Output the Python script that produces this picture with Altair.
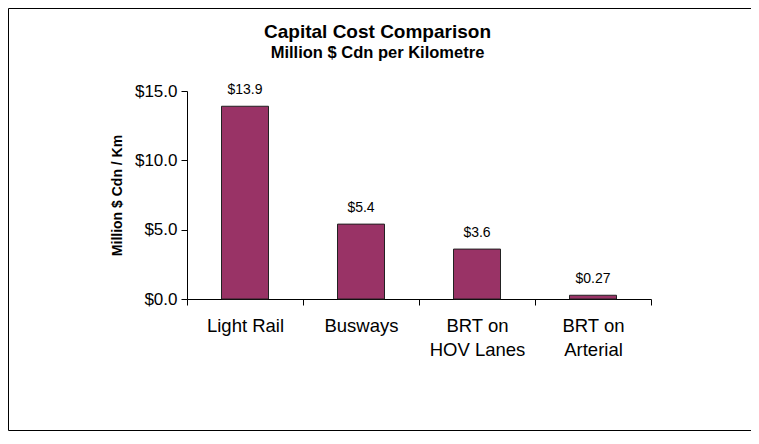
import altair as alt
import pandas as pd

categories = ["Light Rail", "Busways", "BRT on HOV Lanes", "BRT on Arterial"]
costs = [13.9, 5.4, 3.6, 0.27]
cost_labels = ["$13.9", "$5.4", "$3.6", "$0.27"]
y_ticks = [0, 5, 10, 15]
TITLE = "Capital Cost Comparison"
SUBTITLE = "Million $ Cdn per Kilometre"
Y_TITLE = "Million $ Cdn / Km"

df = pd.DataFrame({"cat": categories, "cost": costs, "lbl": cost_labels})
one = pd.DataFrame({"a": [0]})
FONT = "Liberation Sans"

x_enc = alt.X(
    "cat:N", sort=categories,
    scale=alt.Scale(paddingInner=0, paddingOuter=0),
    axis=alt.Axis(
        title=None, labelAngle=0, tickBand="extent", tickSize=6,
        labelFontSize=18.5, labelFont=FONT, labelColor="black",
        labelPadding=11, labelLineHeight=24,
        labelExpr="isString(datum.value) && indexof(datum.value, 'BRT on ') == 0 ? ['BRT on', substring(datum.value, 7)] : datum.label",
        domainColor="black", tickColor="black",
    ),
)
y_enc = alt.Y(
    "cost:Q",
    scale=alt.Scale(domain=[0, 15], nice=False),
    axis=alt.Axis(
        title=Y_TITLE, titleFont=FONT, titleFontSize=14,
        titleFontWeight="bold", titleColor="black", titlePadding=10,
        values=y_ticks, labelExpr="'$' + format(datum.value, '.1f')",
        labelFontSize=17, labelFont=FONT, labelColor="black", labelPadding=4,
        tickSize=6, grid=False, domainColor="black", tickColor="black",
    ),
)

bars = alt.Chart(df).mark_bar(
    size=47, color="#993366", stroke="#222222", strokeWidth=1
).encode(x=x_enc, y=y_enc)

texts = alt.Chart(df).mark_text(
    dy=-12, fontSize=14, font=FONT, color="black", baseline="alphabetic"
).encode(x=alt.X("cat:N", sort=categories), y="cost:Q", text="lbl:N")

frame = alt.Chart(one).mark_rect(
    fill="white", fillOpacity=0, stroke="black", strokeWidth=1
).encode(
    x=alt.value(-178.5), x2=alt.value(700),
    y=alt.value(-82.5), y2=alt.value(339.5),
)

title = alt.Chart(one).mark_text(
    text=TITLE, font=FONT, fontSize=19, fontWeight="bold", color="black",
    align="center", baseline="alphabetic",
).encode(x=alt.value(190.5), y=alt.value(-53))

subtitle = alt.Chart(one).mark_text(
    text=SUBTITLE, font=FONT, fontSize=16.5, fontWeight="bold", color="black",
    align="center", baseline="alphabetic",
).encode(x=alt.value(190.5), y=alt.value(-33))

chart = alt.layer(bars, texts, frame, title, subtitle).properties(
    width=464, height=208,
    autosize=alt.AutoSizeParams(type="none"),
    padding={"left": 179, "top": 83, "right": 100, "bottom": 133},
    background="white",
).configure_view(stroke=None)

chart.save("out.html", embed_options={"renderer": "svg", "actions": False})
